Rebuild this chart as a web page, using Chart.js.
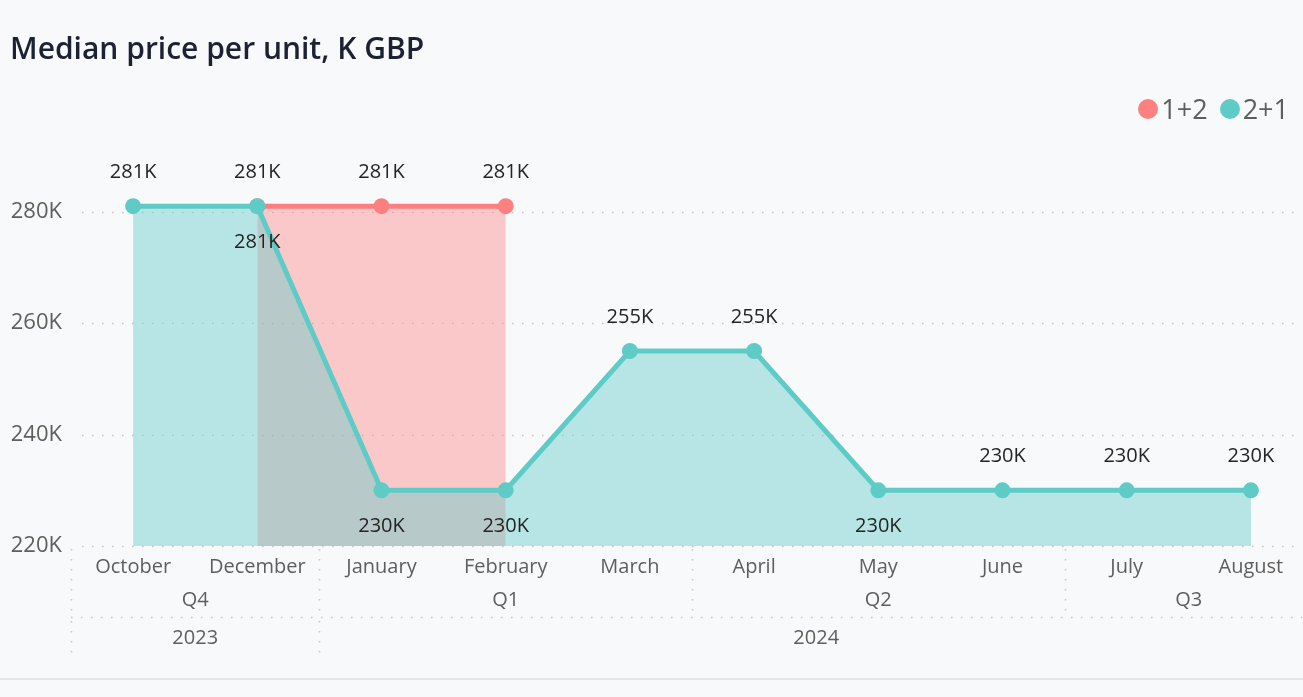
<!DOCTYPE html>
<html>
<head>
<meta charset="utf-8">
<title>Median price per unit</title>
<script src="https://cdn.jsdelivr.net/npm/chart.js@4.4.1/dist/chart.umd.min.js"></script>
<style>
  html, body { margin: 0; padding: 0; overflow: hidden; background: #f8f9fb; }
  #page { position: relative; width: 1303px; height: 697px; overflow: hidden; background: #f8f9fb; }
  #title { position: absolute; left: 10px; top: 27px; margin: 0; white-space: nowrap;
           font: 600 30px 'Segoe UI', 'Open Sans', sans-serif; color: #1c2232; }
  #legend { position: absolute; right: 14px; top: 90px; display: flex; align-items: center;
            font: 400 27px 'Segoe UI', 'Open Sans', sans-serif; color: #605e5c; white-space: nowrap; }
  #legend .item { display: flex; align-items: center; margin-left: 12px; }
  #legend .dot { width: 20px; height: 20px; border-radius: 50%; margin-right: 3px; }
  #chart { position: absolute; left: 0; top: 0; }
  #rule { position: absolute; left: 0; top: 678px; width: 1303px; height: 2px; background: #e4e5e7; }
</style>
</head>
<body>
<div id="page">
  <canvas id="chart" width="1313" height="697"></canvas>
  <h1 id="title">Median price per unit, K GBP</h1>
  <div id="legend"></div>
  <div id="rule"></div>
</div>
<script>
// Months shown on the axis
const months = ['October', 'December', 'January', 'February', 'March', 'April', 'May', 'June', 'July', 'August'];
// Quarter and year groups under the months (label + number of months in the group)
const quarterLabels = ['Q4', 'Q1', 'Q2', 'Q3'];
const quarterSpans = [2, 3, 3, 2];
const yearLabels = ['2023', '2024'];
const yearSpans = [2, 8];
// Median price per unit, thousands of GBP
const seriesNames = ['1+2', '2+1'];
const values12 = [null, 281, 281, 281, null, null, null, null, null, null];
const values21 = [281, 281, 230, 230, 255, 255, 230, 230, 230, 230];
// Value axis ticks
const yTicks = [220, 240, 260, 280];

const FONT = "'Segoe UI', 'Open Sans', sans-serif";
const SALMON = '#fd8080';
const TEAL = '#5ecbc7';
const AXIS_GREY = '#605e5c';

// Plot band edges: the last quarter runs on past the right edge of the page
const PLOT_LEFT = 71;
const PLOT_RIGHT = 1313;

// Which value labels sit under their point instead of over it
const labelsBelow = { '2+1': ['December', 'January', 'February', 'May'] };

const dottedLine = (ctx, x1, y1, x2, y2) => {
  ctx.beginPath();
  ctx.moveTo(x1, y1);
  ctx.lineTo(x2, y2);
  ctx.stroke();
};

// Pin the horizontal extent of the plot band after Chart.js lays it out
const plotBandPlugin = {
  id: 'plotBand',
  afterLayout(chart) {
    const x = chart.scales.x;
    x.left = PLOT_LEFT;
    x.right = PLOT_RIGHT;
    x.width = PLOT_RIGHT - PLOT_LEFT;
    x.configure();
    chart.chartArea.left = PLOT_LEFT;
    chart.chartArea.right = PLOT_RIGHT;
    chart.chartArea.width = PLOT_RIGHT - PLOT_LEFT;
  }
};

// Dotted horizontal gridlines behind the areas
const gridPlugin = {
  id: 'dottedGrid',
  beforeDatasetsDraw(chart) {
    const { ctx, scales: { y } } = chart;
    ctx.save();
    ctx.strokeStyle = '#c8c8c8';
    ctx.lineWidth = 1.6;
    ctx.setLineDash([1.6, 8.4]);
    yTicks.forEach(v => {
      const py = Math.round(y.getPixelForValue(v)) + 0.5;
      dottedLine(ctx, 82, py, 1296, py);
    });
    ctx.restore();
  }
};

// Quarter / year rows and their separators under the month labels
const groupAxisPlugin = {
  id: 'groupAxis',
  afterDraw(chart) {
    const { ctx, scales: { x } } = chart;
    const step = x.getPixelForValue(1) - x.getPixelForValue(0);
    const edge = i => x.getPixelForValue(0) - step / 2 + i * step;
    ctx.save();
    ctx.strokeStyle = '#c8c8c8';
    ctx.lineWidth = 1.6;
    ctx.setLineDash([1.6, 8.4]);
    ctx.fillStyle = AXIS_GREY;
    ctx.font = `20px ${FONT}`;
    ctx.textAlign = 'center';
    ctx.textBaseline = 'middle';
    let start = 0;
    quarterLabels.forEach((q, i) => {
      const x0 = edge(start), x1 = edge(start + quarterSpans[i]);
      dottedLine(ctx, Math.round(x0) + 0.5, 549, Math.round(x0) + 0.5, 613);
      ctx.fillText(q, (x0 + x1) / 2, 600);
      start += quarterSpans[i];
    });
    dottedLine(ctx, edge(0), 617.5, 1303, 617.5);
    start = 0;
    yearLabels.forEach((yr, i) => {
      const x0 = edge(start), x1 = edge(start + yearSpans[i]);
      dottedLine(ctx, Math.round(x0) + 0.5, 621, Math.round(x0) + 0.5, 660);
      ctx.fillText(yr, (x0 + x1) / 2, 638);
      start += yearSpans[i];
    });
    ctx.restore();
  }
};

// Value labels over / under each point
const valueLabelPlugin = {
  id: 'valueLabels',
  afterDatasetsDraw(chart) {
    const { ctx } = chart;
    ctx.save();
    ctx.fillStyle = '#252423';
    ctx.font = `20px ${FONT}`;
    ctx.textAlign = 'center';
    ctx.textBaseline = 'middle';
    chart.data.datasets.forEach((ds, i) => {
      const meta = chart.getDatasetMeta(i);
      const below = labelsBelow[ds.label] || [];
      meta.data.forEach((pt, j) => {
        const v = ds.data[j];
        if (v == null) return;
        const dy = below.includes(months[j]) ? 36 : -34;
        ctx.fillText(v + 'K', pt.x, pt.y + dy);
      });
    });
    ctx.restore();
  }
};

const datasets = [
  {
    label: seriesNames[0],
    data: values12,
    borderColor: SALMON,
    backgroundColor: 'rgba(253,128,128,0.40)',
    pointBackgroundColor: SALMON,
    order: 1
  },
  {
    label: seriesNames[1],
    data: values21,
    borderColor: TEAL,
    backgroundColor: 'rgba(94,203,199,0.42)',
    pointBackgroundColor: TEAL,
    order: 0
  }
].map(d => Object.assign({
  fill: 'start',
  borderWidth: 5,
  tension: 0,
  pointRadius: 8,
  pointBorderWidth: 0,
  pointHoverRadius: 8,
  spanGaps: false
}, d));

// HTML legend built from the series
const legendEl = document.getElementById('legend');
datasets.forEach(d => {
  const item = document.createElement('div');
  item.className = 'item';
  const dot = document.createElement('span');
  dot.className = 'dot';
  dot.style.background = d.borderColor;
  const txt = document.createElement('span');
  txt.textContent = d.label;
  item.appendChild(dot);
  item.appendChild(txt);
  legendEl.appendChild(item);
});

new Chart(document.getElementById('chart'), {
  type: 'line',
  data: { labels: months, datasets },
  options: {
    responsive: false,
    maintainAspectRatio: false,
    devicePixelRatio: 1,
    animation: false,
    events: [],
    layout: { padding: { top: 156, left: 0, right: 0, bottom: 0 } },
    plugins: {
      legend: { display: false },
      title: { display: false },
      tooltip: { enabled: false }
    },
    scales: {
      x: {
        type: 'category',
        offset: true,
        grid: { display: false, drawTicks: false },
        border: { display: false },
        ticks: {
          color: AXIS_GREY,
          font: { family: FONT, size: 20 },
          padding: 9,
          maxRotation: 0,
          autoSkip: false
        },
        afterFit(scale) { scale.height = 151; }
      },
      y: {
        min: 220,
        max: 290,
        grid: { display: false, drawTicks: false },
        border: { display: false },
        ticks: {
          color: AXIS_GREY,
          font: { family: FONT, size: 22 },
          padding: 9,
          callback: v => v + 'K'
        },
        afterBuildTicks(scale) { scale.ticks = yTicks.map(v => ({ value: v })); },
        afterFit(scale) { scale.width = PLOT_LEFT; }
      }
    }
  },
  plugins: [plotBandPlugin, gridPlugin, valueLabelPlugin, groupAxisPlugin]
});
</script>
</body>
</html>
